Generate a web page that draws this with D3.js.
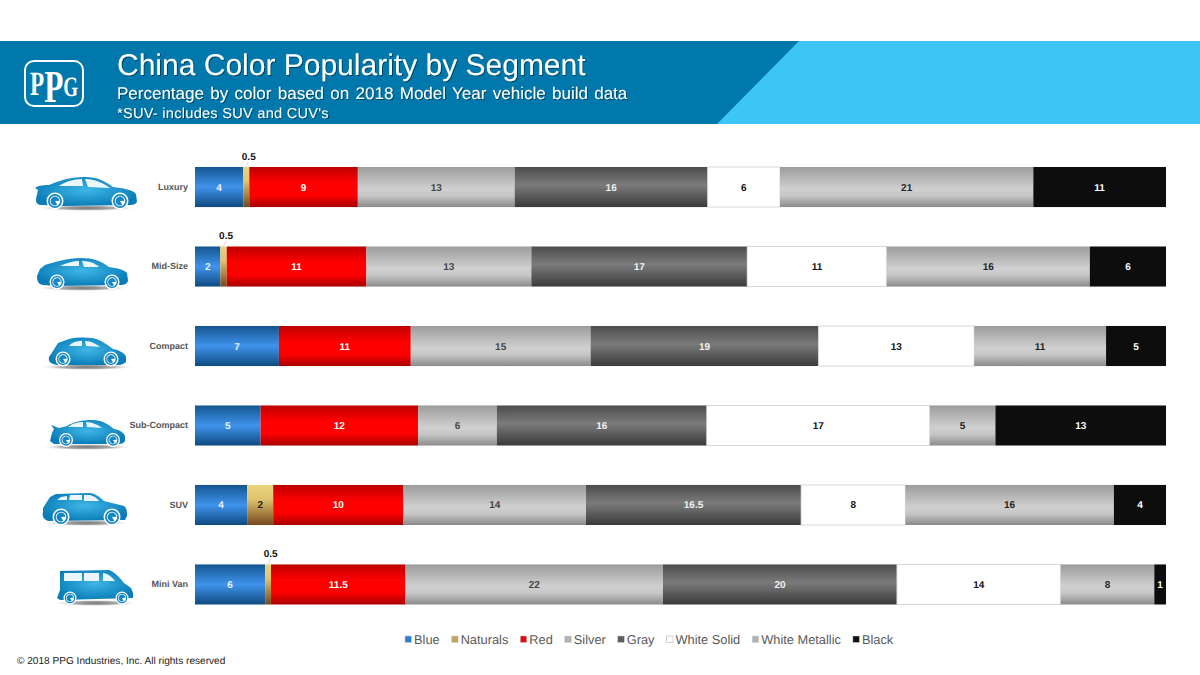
<!DOCTYPE html>
<html>
<head>
<meta charset="utf-8">
<script src="https://cdn.jsdelivr.net/npm/d3@7"></script>
<style>
body { margin: 0; background: #fff; }
text { font-family: "Liberation Sans", Arial, sans-serif; text-rendering: geometricPrecision; }
</style>
</head>
<body>
<svg id="chart" width="1200" height="675"></svg>
<script>
const segments = ['Luxury', 'Mid-Size', 'Compact', 'Sub-Compact', 'SUV', 'Mini Van'];
const colors = ['Blue', 'Naturals', 'Red', 'Silver', 'Gray', 'White Solid', 'White Metallic', 'Black'];

const blue = [4, 2, 7, 5, 4, 6];
const naturals = [0.5, 0.5, 0, 0, 2, 0.5];
const red = [9, 11, 11, 12, 10, 11.5];
const silver = [13, 13, 15, 6, 14, 22];
const gray = [16, 17, 19, 16, 16.5, 20];
const whiteSolid = [6, 11, 13, 17, 8, 14];
const whiteMetallic = [21, 16, 11, 5, 16, 8];
const black = [11, 6, 5, 13, 4, 1];

const seriesValues = [blue, naturals, red, silver, gray, whiteSolid, whiteMetallic, black];

// one row per segment, for d3.stack
const rows = segments.map((s, i) => {
    const row = { segment: s };
    colors.forEach((c, j) => { row[c] = seriesValues[j][i]; });
    return row;
});

const svg = d3.select('#chart');
const defs = svg.append('defs');

// vertical gradients for the bars: offset, colour
const metallic = [[0, '#9c9c9c'], [0.55, '#d0d0d0'], [0.72, '#c6c6c6'], [1, '#8a8a8a']];
const gradients = {
    'Blue': [[0, '#14558f'], [0.5, '#3f93ec'], [1, '#0f4a80']],
    'Naturals': [[0, '#ecd27c'], [0.35, '#e0c46e'], [1, '#74481c']],
    'Red': [[0, '#bd0000'], [0.4, '#ff0000'], [0.7, '#ff0000'], [1, '#a80000']],
    'Silver': metallic,
    'Gray': [[0, '#4c4c4c'], [0.45, '#7b7b7b'], [1, '#3a3a3a']],
    'White Solid': [[0, '#ffffff'], [1, '#ffffff']],
    'White Metallic': metallic,
    'Black': [[0, '#0d0d0d'], [1, '#0d0d0d']]
};
const gradId = c => 'grad-' + c.replace(' ', '-');
colors.forEach(c => {
    defs.append('linearGradient').attr('id', gradId(c))
        .attr('x1', 0).attr('y1', 0).attr('x2', 0).attr('y2', 1)
        .selectAll('stop').data(gradients[c]).enter().append('stop')
        .attr('offset', d => d[0]).attr('stop-color', d => d[1]);
});

// header
svg.append('rect').attr('x', 0).attr('y', 41).attr('width', 1200).attr('height', 83).attr('fill', '#0078ab');
svg.append('path').attr('d', 'M799,41L1200,41L1200,124L717,124Z').attr('fill', '#3ec5f7');

defs.append('filter').attr('id', 'txtShadow')
    .append('feDropShadow').attr('dx', 1).attr('dy', 1).attr('stdDeviation', 0.7)
    .attr('flood-color', '#000').attr('flood-opacity', 0.45);

svg.append('text').attr('x', 117).attr('y', 75).attr('fill', '#fff')
    .attr('font-size', 30).attr('filter', 'url(#txtShadow)')
    .text('China Color Popularity by Segment');
svg.append('text').attr('x', 117).attr('y', 99).attr('fill', '#fff')
    .attr('font-size', 17).attr('word-spacing', 1.6).attr('filter', 'url(#txtShadow)')
    .text('Percentage by color based on 2018 Model Year vehicle build data');
svg.append('text').attr('x', 117).attr('y', 118).attr('fill', '#fff')
    .attr('font-size', 14.5).attr('letter-spacing', 0.3).attr('filter', 'url(#txtShadow)')
    .text("*SUV- includes SUV and CUV's");

// PPG logo, one text with the middle P taller and dropped
const logo = svg.append('g').attr('transform', 'translate(25,61)');
logo.append('rect').attr('width', 58).attr('height', 45).attr('rx', 9)
    .attr('fill', 'none').attr('stroke', '#fff').attr('stroke-width', 2);
const logoLetters = [
    { t: 'P', size: 34, dy: 0 },
    { t: 'P', size: 46, dy: 7 },
    { t: 'G', size: 28, dy: -6 }
];
logo.append('text')
    .attr('transform', 'translate(5,34) scale(0.68,1)')
    .attr('fill', '#fff').attr('font-weight', 'bold')
    .style('font-family', '"Liberation Serif", serif')
    .selectAll('tspan').data(logoLetters).enter().append('tspan')
    .attr('font-size', d => d.size).attr('dy', d => d.dy)
    .text(d => d.t);

// scales
const x = d3.scaleLinear().domain([0, 1]).range([195, 1166]);
const y = d3.scaleBand().domain(segments).range([167, 604.5]).paddingInner(0.496);

const stack = d3.stack().keys(colors).offset(d3.stackOffsetExpand);
const series = stack(rows);

const allCells = series.flatMap(s => s.map(p => ({ key: s.key, p: p, segment: p.data.segment, value: p.data[s.key] })))
    .filter(d => d.value > 0);

svg.append('g').selectAll('rect').data(allCells).enter().append('rect')
    .attr('x', d => x(d.p[0]))
    .attr('y', d => y(d.segment))
    .attr('width', d => x(d.p[1]) - x(d.p[0]))
    .attr('height', y.bandwidth())
    .attr('fill', d => 'url(#' + gradId(d.key) + ')')
    .attr('stroke', d => d.key === 'White Solid' ? '#cfcfcf' : 'none')
    .attr('stroke-width', 0.8);

// value labels
const labelColor = {
    'Blue': '#e8f2ff', 'Naturals': '#222', 'Red': '#fff', 'Silver': '#444', 'Gray': '#f2f2f2',
    'White Solid': '#111', 'White Metallic': '#222', 'Black': '#fff'
};
const labels = svg.append('g').attr('font-size', 10).attr('font-weight', 'bold').attr('text-anchor', 'middle');
labels.selectAll('text.inside').data(allCells.filter(d => d.value >= 1)).enter().append('text')
    .attr('x', d => (x(d.p[0]) + x(d.p[1])) / 2)
    .attr('y', d => y(d.segment) + y.bandwidth() / 2 + 3.5)
    .attr('fill', d => labelColor[d.key])
    .text(d => d.value);

// small slices get their label above the bar with a short leader
const small = allCells.filter(d => d.value < 1);
labels.selectAll('text.outside').data(small).enter().append('text')
    .attr('x', d => (x(d.p[0]) + x(d.p[1])) / 2 + 2.5)
    .attr('y', d => y(d.segment) - 7.5)
    .attr('fill', '#111')
    .text(d => d.value);
svg.append('g').selectAll('line').data(small).enter().append('line')
    .attr('x1', d => (x(d.p[0]) + x(d.p[1])) / 2)
    .attr('x2', d => (x(d.p[0]) + x(d.p[1])) / 2 + 2)
    .attr('y1', d => y(d.segment))
    .attr('y2', d => y(d.segment) - 5)
    .attr('stroke', '#bbb').attr('stroke-width', 0.6);

// category axis
const yAxis = svg.append('g').attr('transform', 'translate(195,0)')
    .call(d3.axisLeft(y).tickSize(0).tickPadding(7));
yAxis.select('.domain').remove();
yAxis.selectAll('text').attr('font-size', 9).attr('font-weight', 'bold').attr('fill', '#555')
    .style('font-family', '"Liberation Sans", Arial, sans-serif');

// vehicle icons, drawn in a local box
const body = defs.append('radialGradient').attr('id', 'carBody').attr('cx', 0.5).attr('cy', 0.45).attr('r', 0.55);
body.append('stop').attr('offset', 0).attr('stop-color', '#3fb6e6');
body.append('stop').attr('offset', 1).attr('stop-color', '#0a7db8');
const shadow = defs.append('radialGradient').attr('id', 'carShadow');
shadow.append('stop').attr('offset', 0).attr('stop-color', '#777');
shadow.append('stop').attr('offset', 0.55).attr('stop-color', '#aaa');
shadow.append('stop').attr('offset', 1).attr('stop-color', '#fff').attr('stop-opacity', 0);

const icons = {
    'Luxury': {
        dx: 35, dy: 177,
        body: 'M3,13L0,11C4,8 10,8 14,8C24,4 34,0 50,0C62,0 70,4 78,10C88,11 98,13 101,17L102,25C101,27 98,28 96,28L28,29L8,28C2,28 1,26 1,22Z',
        windows: ['M24,9C30,5 38,2 47,2L48,9Z', 'M50,2C60,2 68,6 75,11L53,10Z'],
        wheels: [[20, 24], [85, 24]], r: 8.5, sh: [52, 31, 50]
    },
    'Mid-Size': {
        dx: 37, dy: 258,
        body: 'M3,11L8,7C18,4 30,0 44,0C56,0 64,3 72,9C80,10 88,12 90,15L91,23C90,26 87,27 84,27L20,28L6,27C1,26 0,23 0,18Z',
        windows: ['M23,8C29,5 36,3 42,3L42,8Z', 'M45,3C52,3 58,5 62,9L47,9Z'],
        wheels: [[20, 24], [75, 24]], r: 7.5, sh: [46, 30, 46]
    },
    'Compact': {
        dx: 49, dy: 337,
        body: 'M4,14L9,6L20,2C30,0 42,0 50,3C56,6 60,9 64,12C70,13 76,16 77,20L77,25C75,27 72,28 70,28L8,28C2,27 -1,25 0,20Z',
        windows: ['M20,9C23,5 28,4 33,4L33,9Z', 'M36,4C42,4 47,7 51,10L37,9Z'],
        wheels: [[14, 22], [62, 22]], r: 7.5, sh: [38, 30, 48]
    },
    'Sub-Compact': {
        dx: 50, dy: 420,
        body: 'M2,13L4,9L1,5L9,8L17,6C23,2 32,0 42,0C52,0 58,4 64,9C70,10 74,13 75,16L75,21C73,24 70,24 68,24L4,24L0,21Z',
        windows: ['M18,7C23,3 28,2 33,2L33,7Z', 'M36,2C42,2 48,5 52,8L37,7Z'],
        wheels: [[16, 20], [63, 20]], r: 7, sh: [37, 27, 46]
    },
    'SUV': {
        dx: 42, dy: 492,
        body: 'M1,16L8,5L14,2L48,1C54,2 58,5 62,9L82,14C85,16 85,20 85,24L83,28L6,29C1,27 0,24 1,20Z',
        windows: ['M15,8L19,5L25,4L25,8Z', 'M27,8L28,3L40,3L40,8Z', 'M42,3L48,3C52,4 55,6 57,9L42,9Z'],
        wheels: [[19, 25], [70, 25]], r: 8.5, sh: [44, 31, 44]
    },
    'Mini Van': {
        dx: 57, dy: 570,
        body: 'M3,1L52,0C58,2 64,9 67,13L74,18L76,23L76,28L3,30L0,28L3,20Z',
        windows: ['M7,3L25,3L25,11L7,11Z', 'M27,3L42,3L42,11L27,11Z', 'M46,3C50,3 55,7 58,11L46,11Z'],
        wheels: [[13, 28], [65, 28]], r: 6.5, sh: [38, 33, 42]
    }
};

segments.forEach(s => {
    const ic = icons[s];
    const g = svg.append('g').attr('transform', 'translate(' + ic.dx + ',' + ic.dy + ')');
    g.append('ellipse').attr('cx', ic.sh[0]).attr('cy', ic.sh[1]).attr('rx', ic.sh[2]).attr('ry', 3.2)
        .attr('fill', 'url(#carShadow)');
    g.append('path').attr('d', ic.body).attr('fill', 'url(#carBody)');
    g.selectAll('path.win').data(ic.windows).enter().append('path')
        .attr('d', d => d).attr('fill', '#eaf6fc');
    ic.wheels.forEach(w => {
        const wg = g.append('g').attr('transform', 'translate(' + w[0] + ',' + w[1] + ')');
        wg.append('circle').attr('r', ic.r).attr('fill', '#fff');
        wg.append('circle').attr('r', ic.r * 0.82).attr('fill', '#1487c2');
        wg.append('circle').attr('r', ic.r * 0.62).attr('fill', '#fff');
        wg.append('path').attr('d', d3.arc()({ innerRadius: 0, outerRadius: ic.r * 0.52, startAngle: 2.6, endAngle: 7.8 }))
            .attr('fill', '#1487c2');
    });
});

// legend
const swatchFill = {
    'Blue': '#2f7fd0', 'Naturals': '#c4a55e', 'Red': '#dd0c14', 'Silver': '#b2b2b2', 'Gray': '#5e5e5e',
    'White Solid': '#fff', 'White Metallic': '#b2b2b2', 'Black': '#111'
};
const legend = svg.append('g').attr('transform', 'translate(405,640)');
let lx = 0;
colors.forEach(c => {
    legend.append('rect').attr('x', lx).attr('y', -4).attr('width', 6.5).attr('height', 6.5)
        .attr('fill', swatchFill[c]).attr('stroke', c === 'White Solid' ? '#aaa' : '#ccc').attr('stroke-width', 0.5);
    const t = legend.append('text').attr('x', lx + 9).attr('y', 4).attr('font-size', 12.8)
        .attr('fill', '#595959').text(c);
    lx += 9 + t.node().getComputedTextLength() + 12;
});

svg.append('text').attr('x', 17).attr('y', 664).attr('font-size', 10.1).attr('fill', '#222')
    .text('\u00a9 2018 PPG Industries, Inc. All rights reserved');
</script>
</body>
</html>
